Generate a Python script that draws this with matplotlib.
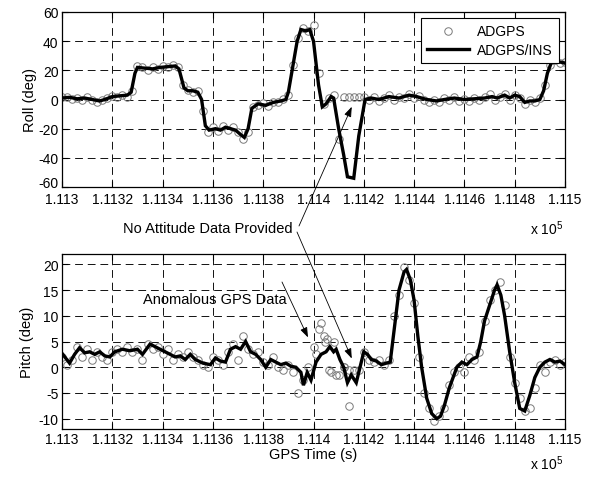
import matplotlib
matplotlib.use("Agg")
import matplotlib.pyplot as plt
import matplotlib.transforms as mtransforms
import numpy as np

plt.rcParams['font.family'] = ['Liberation Sans', 'DejaVu Sans']
plt.rcParams['axes.unicode_minus'] = False
plt.rcParams['mathtext.fontset'] = 'custom'
plt.rcParams['mathtext.rm'] = 'Liberation Sans'
plt.rcParams['mathtext.it'] = 'Liberation Sans:italic'

# ---- GPS time axis (s) ----
t_lo, t_hi = 111300, 111500
xticks = [111300, 111320, 111340, 111360, 111380, 111400,
          111420, 111440, 111460, 111480, 111500]
xtick_labels = ["1.113", "1.1132", "1.1134", "1.1136", "1.1138", "1.114",
                "1.1142", "1.1144", "1.1146", "1.1148", "1.115"]

# ---- ADGPS samples (every 2 s) ----
gps_time = list(range(111300, 111501, 2))

roll_gps = [1.5, 2, 0.5, 1, 0, 1.5, -0.5, -1.5, 0, 1,
            2.5, 1.5, 3, 2, 6, 23, 22, 20.5, 22.5, 21,
            23, 22, 24, 22, 10, 6.5, 5, 6, -8, -22,
            -19, -21.5, -18.5, -21, -19, -22, -27, -22, -5, -4,
            -2.5, -4.5, -1.5, -2, 0.5, 3, 24, 42, 49, 47,
            51, 18, -3, 1, 3, -27, 2, 2, 2, 2,
            1.5, 0, 2, -1, 1, 3, 0, 2, 1, 4,
            1, 2.5, 0, -1.5, 0, -2, 1, -0.5, 2, -1,
            0.5, -1, 1, 0, 2, 4, 0, 2, 4, 0,
            3, 1, -3, 0, -2, 1, 10, 24, 27, 25,
            26]

pitch_gps = [2, 0.5, 1.5, 4, 2, 3.5, 1.5, 3, 2, 1.5,
             3, 3.5, 3, 4, 3, 3.5, 1.5, 4.5, 3.5, 4,
             2.5, 3.5, 1.5, 2.5, 2, 3, 2, 1.5, 0.5, 0,
             2, 1.5, 0.5, 3, 4.5, 1.5, 6, 3.5, 2.5, 3,
             1, 0.5, 2, 0, -0.5, 0.5, -1, -5, -2.5, 0,
             4, 7.5, 6, -0.5, 5, -1.5, 0, -7.5, -0.5, -0.5,
             3, 1.5, 1, 1.5, 0.5, 1.5, 10, 14, 19.5, 17,
             12.5, 2, -5, -8, -10.5, -9.5, -8, -3.5, -1, 0,
             -1, 2, 1.5, 3, 9, 13, 15, 16.5, 12, 2,
             -3, -6, -8.5, -8, -4, 0.5, -1, 1, 1.5, 0.5,
             1]

# extra anomalous GPS pitch fixes
pitch_extra_t = [111401, 111403, 111404.5, 111405.5, 111407, 111409, 111412, 111414]
pitch_extra_v = [2.5, 8.5, 5, 5.5, -1, -1.5, 0, -0.5]

# ---- blended ADGPS/INS solution ----
roll_ins_t = [111300, 111303, 111306, 111309, 111312, 111315, 111317, 111320,
              111323, 111326, 111327.5, 111329, 111330, 111333, 111336, 111339,
              111342, 111345, 111346.5, 111348.5, 111350, 111352, 111354, 111355.5,
              111357, 111358.5, 111361, 111363, 111365, 111367, 111369, 111371,
              111372.5, 111374, 111375.5, 111378, 111381, 111384, 111387, 111389,
              111390, 111392, 111393.5, 111395, 111397, 111398.5, 111400, 111402,
              111403.5, 111405, 111407, 111408, 111410, 111412, 111413.5, 111416,
              111418, 111420.5, 111423, 111426, 111430, 111434, 111438, 111441,
              111445, 111449, 111452, 111456, 111460, 111464, 111468, 111471,
              111473, 111476, 111478, 111480, 111482, 111484, 111486, 111488,
              111490, 111491.5, 111493, 111494.5, 111497, 111500]
roll_ins_v = [1, 1.5, 0.5, 1, 0, -1, 0, 2,
              2.5, 3, 5, 18, 22, 21.5, 21, 22,
              22.5, 23, 21, 8, 6, 6, 5, 0,
              -18, -21, -20, -21, -19, -20, -21, -24,
              -26, -20, -6, -3, -4, -2, -1, 0,
              5, 25, 40, 48, 47, 48, 40, 10,
              -5, -3, 2, 1, -20, -38, -53, -54,
              -25, 0, 1, 0, 2, 1, 3, 2,
              0, -1, 0, 1, 0, 0.5, 1, 2,
              1, 3, 1, 3, 2, -2, -1, -1,
              0, 6, 18, 25, 26, 25]

pitch_ins_t = [111300, 111303, 111305, 111307, 111309, 111311, 111313, 111315,
               111317, 111319, 111321, 111324, 111327, 111330, 111332, 111335,
               111337, 111339, 111341, 111343, 111345, 111347, 111349, 111351,
               111353, 111356, 111359, 111361, 111363, 111365, 111367, 111369,
               111371, 111373, 111375, 111377, 111379, 111381, 111383, 111385,
               111387, 111389, 111391, 111393, 111395, 111396, 111397.5, 111399,
               111401, 111403, 111405, 111406.5, 111408, 111409, 111410.5, 111412,
               111413.5, 111415, 111417, 111418.5, 111420, 111421.5, 111423, 111425,
               111427, 111429, 111430.5, 111432, 111434, 111436, 111437, 111438.5,
               111440, 111441.5, 111443, 111445, 111447, 111449, 111450.5, 111452,
               111454, 111455.5, 111457, 111459, 111461, 111463, 111465, 111466.5,
               111468, 111470, 111472, 111473, 111474.5, 111476, 111478, 111480,
               111482, 111484, 111486, 111488, 111490, 111492, 111494, 111496,
               111498, 111500]
pitch_ins_v = [2.7, 0.8, 2.5, 3.8, 2.8, 3, 2.5, 3,
               2.2, 2, 3, 3.5, 3.2, 3.5, 2.5, 4.5,
               4, 3.5, 3, 2.5, 2, 2.2, 1.5, 2.5,
               1.5, 0.8, 0.5, 1.8, 1.2, 1, 3.5, 4,
               3.5, 5, 3, 2.5, 1.5, 0, 1.5, 1,
               0.5, 0.8, 0.2, 0, -1, -3.5, -1, -2.5,
               1, 2.5, 3, 4, 3, 3.5, 1.5, 0,
               -3, -1.5, -3, 0, 3, 2.5, 1.5, 1.2,
               0.5, 0.8, 1, 7, 15, 18.5, 19, 17,
               13, 6, 0, -6, -9, -10, -9.5, -7.5,
               -4, -2, 0, 1, 0.5, 1.5, 2, 5,
               9, 12, 15, 16, 14, 10, 3, -3,
               -8, -8.5, -5.5, -2, 0, 1, 1.5, 1,
               1.2, 0.5]

roll_ticks = [-60, -40, -20, 0, 20, 40, 60]
pitch_ticks = [-10, -5, 0, 5, 10, 15, 20]

W, H = 595, 481
fig = plt.figure(figsize=(W / 100, H / 100), dpi=100)
fig.patch.set_facecolor("white")

def px_axes(left, top, right, bottom):
    return fig.add_axes([left / W, 1 - bottom / H, (right - left) / W, (bottom - top) / H])

ax1 = px_axes(62, 13, 565, 188)
ax2 = px_axes(62, 255, 565, 430)

circ = dict(linestyle="none", marker="o", markersize=5.4, markerfacecolor="none",
            markeredgecolor="#7a7a7a", markeredgewidth=0.7)
line = dict(color="black", linewidth=2.4, solid_joinstyle="miter")

for ax in (ax1, ax2):
    ax.set_xlim(t_lo, t_hi)
    ax.set_xticks(xticks)
    ax.set_xticklabels(xtick_labels)
    ax.grid(True, color="#111111", linestyle=(0, (8, 5)), linewidth=0.7)
    ax.tick_params(direction="in", length=4, width=0.8, labelsize=10,
                   top=True, right=True, colors="black")
    ax.tick_params(axis="y", pad=2.5)
    for s in ax.spines.values():
        s.set_linewidth(0.9)
        s.set_color("black")
    ax.set_axisbelow(True)

ax1.tick_params(axis="x", pad=3.5)
ax2.tick_params(axis="x", pad=2)

ax1.plot(gps_time, roll_gps, label="ADGPS", **circ)
ax1.plot(roll_ins_t, roll_ins_v, label="ADGPS/INS", **line)
ax1.set_ylim(-60, 60)
ax1.set_yticks(roll_ticks)
ax1.set_ylabel("Roll (deg)", fontsize=10.5, labelpad=1)
leg = ax1.legend(loc="upper right", fontsize=10, frameon=True, fancybox=False,
                 edgecolor="black", framealpha=1, borderaxespad=0.45,
                 handlelength=3.0, borderpad=0.45, labelspacing=0.3,
                 handletextpad=0.6)
leg.get_frame().set_linewidth(0.8)

# lift the lowest roll label so it clears the time labels below
low_lbl = ax1.get_yticklabels()[0]
low_lbl.set_transform(low_lbl.get_transform() +
                      mtransforms.ScaledTranslation(0, 4 / 72, fig.dpi_scale_trans))

ax2.plot(gps_time, pitch_gps, **circ)
ax2.plot(pitch_extra_t, pitch_extra_v, **circ)
ax2.plot(pitch_ins_t, pitch_ins_v, **line)
ax2.set_ylim(-12, 22)
ax2.set_yticks(pitch_ticks)
ax2.set_ylabel("Pitch (deg)", fontsize=10.5, labelpad=3)
ax2.set_xlabel("GPS Time (s)", fontsize=10.5, labelpad=1)

# exponent labels
for ybase in (229, 464):
    fig.text(530 / W, 1 - ybase / H, r"x 10$^{5}$", fontsize=10,
             ha="left", va="center")

# annotations
arrow = dict(arrowstyle="-|>,head_length=0.6,head_width=0.22", color="black",
             lw=0.6, shrinkA=0, shrinkB=0)
fig.text(208 / W, 1 - 229 / H, "No Attitude Data Provided", fontsize=10.5,
         ha="center", va="center")
ax1.annotate("", xy=(111415.2, -5), xycoords="data",
             xytext=(299, H - 227), textcoords="figure pixels", arrowprops=arrow)
ax2.annotate("", xy=(111415.2, 1.7), xycoords="data",
             xytext=(297, H - 233), textcoords="figure pixels", arrowprops=arrow)

fig.text(215 / W, 1 - 300 / H, "Anomalous GPS Data", fontsize=10.5,
         ha="center", va="center")
ax2.annotate("", xy=(111397.8, 5.8), xycoords="data",
             xytext=(282, H - 283), textcoords="figure pixels", arrowprops=arrow)

fig.savefig("out.png", dpi=100, facecolor="white")
